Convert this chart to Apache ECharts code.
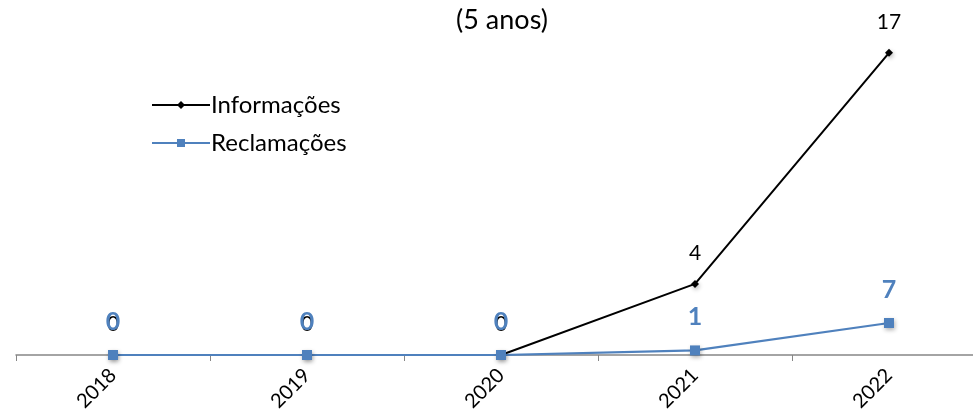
<!DOCTYPE html>
<html><head><meta charset="utf-8">
<script src="https://cdn.jsdelivr.net/npm/echarts@6/dist/echarts.min.js"></script>
<style>html,body{margin:0;padding:0;background:#fff;overflow:hidden;width:973px;height:411px}#c{width:986px;height:411px}</style>
</head><body><div id="c"></div>
<script>
var categories = ['2018','2019','2020','2021','2022'];
var informacoes = [0,0,0,4,17];
var reclamacoes = [0,0,0,1,7];
var titleText = '(5 anos)';
var seriesNames = ['Informações','Reclamações'];

var FONT = 'Lato, "Open Sans", sans-serif';
var chart = echarts.init(document.getElementById('c'), null, {renderer:'canvas'});
chart.setOption({
  animation:false,
  backgroundColor:'#ffffff',
  title:{text:titleText, left:497, top:2, textAlign:'center',
    textStyle:{fontFamily:FONT, fontSize:27, fontWeight:'normal', color:'#000'}},
  legend:{orient:'vertical', left:146, top:88, itemWidth:58, itemHeight:10, itemGap:14,
    textStyle:{fontFamily:FONT, fontSize:24, color:'#000', padding:[0,0,0,-4]},
    data:seriesNames},
  grid:{left:16, right:0, top:35, bottom:56, containLabel:false, outerBoundsMode:'none'},
  xAxis:{type:'category', data:categories, boundaryGap:true,
    axisLine:{lineStyle:{color:'#868686', width:1.5}},
    axisTick:{show:true, length:6, lineStyle:{color:'#868686'}},
    axisLabel:{rotate:45, fontFamily:FONT, fontSize:20, color:'#000', margin:17}},
  yAxis:[
    {type:'value', min:0, max:18, show:false, splitLine:{show:false}},
    {type:'value', min:0, max:70, show:false, splitLine:{show:false}}
  ],
  series:[
    {name:seriesNames[0], type:'line', data:informacoes, yAxisIndex:0, z:2,
      symbol:'diamond', symbolSize:8, showAllSymbol:true,
      lineStyle:{color:'#000', width:2},
      itemStyle:{color:'#000', shadowBlur:4, shadowColor:'rgba(0,0,0,0.3)', shadowOffsetX:1, shadowOffsetY:2},
      label:{show:true, position:'top', distance:16, fontFamily:FONT, fontSize:21, color:'#000'}},
    {name:seriesNames[1], type:'line', data:reclamacoes, yAxisIndex:1, z:3,
      symbol:'rect', symbolSize:10, showAllSymbol:true,
      lineStyle:{color:'#4F81BD', width:2.2},
      itemStyle:{color:'#4F81BD', shadowBlur:4, shadowColor:'rgba(0,0,0,0.3)', shadowOffsetX:1, shadowOffsetY:2},
      label:{show:true, position:'top', distance:16, fontFamily:FONT, fontSize:25, fontWeight:'bold', color:'#4F81BD'}}
  ]
});
</script></body></html>
